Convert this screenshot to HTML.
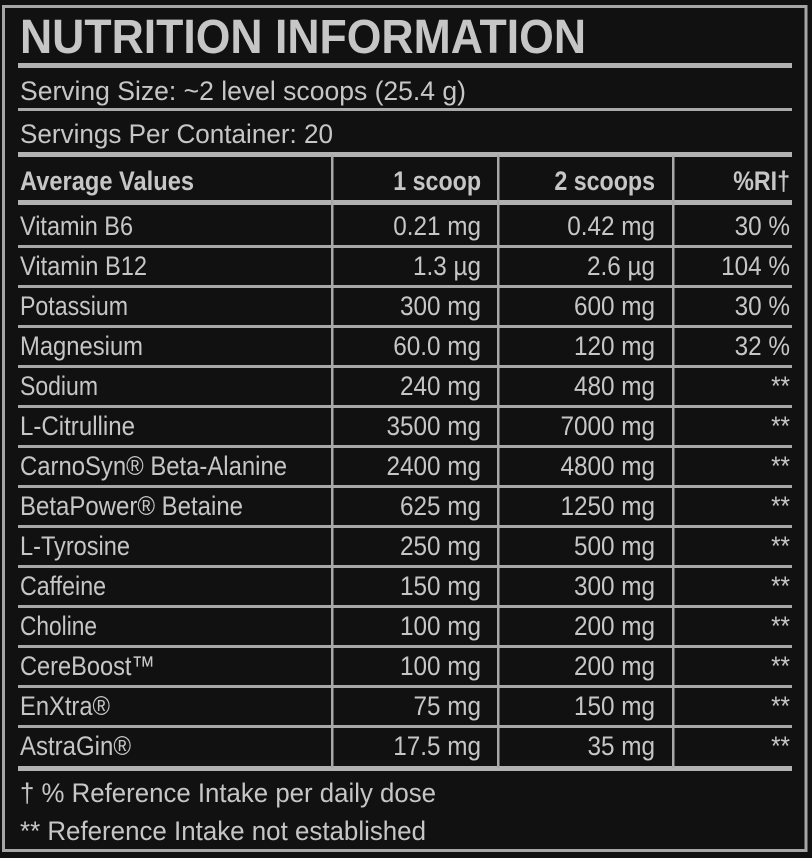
<!DOCTYPE html>
<html><head><meta charset="utf-8"><style>
html,body{margin:0;padding:0;background:#111;}
svg{display:block}
text{font-family:"Liberation Sans",sans-serif;fill:#c6c6c6;font-size:27px}
.b{font-weight:bold}
</style></head><body>
<svg width="812" height="858" viewBox="0 0 812 858" xmlns="http://www.w3.org/2000/svg">
<rect x="0" y="0" width="812" height="858" fill="#111"/>
<rect x="3.5" y="6.5" width="802.5" height="844" fill="none" stroke="#a6a6a6" stroke-width="3"/>
<!-- title -->
<text class="b" x="20" y="53" font-size="48" textLength="566" lengthAdjust="spacingAndGlyphs" style="font-size:48px">NUTRITION INFORMATION</text>
<rect x="18" y="63" width="774" height="5" fill="#b2b2b2"/>
<text x="20" y="100" textLength="446" lengthAdjust="spacingAndGlyphs">Serving Size: ~2 level scoops (25.4 g)</text>
<rect x="18" y="108" width="774" height="3" fill="#aaa"/>
<text x="20" y="143" textLength="313" lengthAdjust="spacingAndGlyphs">Servings Per Container: 20</text>
<rect x="18" y="152" width="774" height="5" fill="#b2b2b2"/>
<!-- header -->
<text class="b" x="20" y="190" textLength="174" lengthAdjust="spacingAndGlyphs">Average Values</text>
<g transform="translate(481,190) scale(0.86,1)"><text class="b" x="0" y="0" text-anchor="end">1 scoop</text></g>
<g transform="translate(655,190) scale(0.86,1)"><text class="b" x="0" y="0" text-anchor="end">2 scoops</text></g>
<g transform="translate(790,190) scale(0.86,1)"><text class="b" x="0" y="0" text-anchor="end">%RI†</text></g>
<rect x="18" y="200" width="774" height="5" fill="#b2b2b2"/>
<!-- row lines -->
<g fill="#a8a8a8">
<rect x="18" y="245" width="774" height="3"/>
<rect x="18" y="285" width="774" height="3"/>
<rect x="18" y="325" width="774" height="3"/>
<rect x="18" y="365" width="774" height="3"/>
<rect x="18" y="405" width="774" height="3"/>
<rect x="18" y="445" width="774" height="3"/>
<rect x="18" y="485" width="774" height="3"/>
<rect x="18" y="525" width="774" height="3"/>
<rect x="18" y="565" width="774" height="3"/>
<rect x="18" y="605" width="774" height="3"/>
<rect x="18" y="645" width="774" height="3"/>
<rect x="18" y="685" width="774" height="3"/>
<rect x="18" y="725" width="774" height="3"/>
</g>
<rect x="18" y="766" width="774" height="5" fill="#b2b2b2"/>
<!-- column lines -->
<g fill="#a8a8a8">
<rect x="331" y="155" width="2.5" height="613"/>
<rect x="497" y="155" width="2.5" height="613"/>
<rect x="672" y="155" width="2.5" height="613"/>
</g>
<!-- names -->
<g>
<text x="20" y="235" textLength="113" lengthAdjust="spacingAndGlyphs">Vitamin B6</text>
<text x="20" y="275" textLength="127" lengthAdjust="spacingAndGlyphs">Vitamin B12</text>
<text x="20" y="315" textLength="108" lengthAdjust="spacingAndGlyphs">Potassium</text>
<text x="20" y="355" textLength="123" lengthAdjust="spacingAndGlyphs">Magnesium</text>
<text x="20" y="395" textLength="78" lengthAdjust="spacingAndGlyphs">Sodium</text>
<text x="20" y="435" textLength="115" lengthAdjust="spacingAndGlyphs">L-Citrulline</text>
<text x="20" y="475" textLength="267" lengthAdjust="spacingAndGlyphs">CarnoSyn® Beta-Alanine</text>
<text x="20" y="515" textLength="223" lengthAdjust="spacingAndGlyphs">BetaPower® Betaine</text>
<text x="20" y="555" textLength="110" lengthAdjust="spacingAndGlyphs">L-Tyrosine</text>
<text x="20" y="595" textLength="86" lengthAdjust="spacingAndGlyphs">Caffeine</text>
<text x="20" y="635" textLength="77" lengthAdjust="spacingAndGlyphs">Choline</text>
<text x="20" y="675" textLength="135" lengthAdjust="spacingAndGlyphs">CereBoost™</text>
<text x="20" y="715" textLength="90" lengthAdjust="spacingAndGlyphs">EnXtra®</text>
<text x="20" y="755" textLength="111" lengthAdjust="spacingAndGlyphs">AstraGin®</text>
</g>
<!-- col 1 -->
<g text-anchor="end">
<g transform="translate(481,235) scale(0.9,1)"><text>0.21 mg</text></g>
<g transform="translate(481,275) scale(0.9,1)"><text>1.3 µg</text></g>
<g transform="translate(481,315) scale(0.9,1)"><text>300 mg</text></g>
<g transform="translate(481,355) scale(0.9,1)"><text>60.0 mg</text></g>
<g transform="translate(481,395) scale(0.9,1)"><text>240 mg</text></g>
<g transform="translate(481,435) scale(0.9,1)"><text>3500 mg</text></g>
<g transform="translate(481,475) scale(0.9,1)"><text>2400 mg</text></g>
<g transform="translate(481,515) scale(0.9,1)"><text>625 mg</text></g>
<g transform="translate(481,555) scale(0.9,1)"><text>250 mg</text></g>
<g transform="translate(481,595) scale(0.9,1)"><text>150 mg</text></g>
<g transform="translate(481,635) scale(0.9,1)"><text>100 mg</text></g>
<g transform="translate(481,675) scale(0.9,1)"><text>100 mg</text></g>
<g transform="translate(481,715) scale(0.9,1)"><text>75 mg</text></g>
<g transform="translate(481,755) scale(0.9,1)"><text>17.5 mg</text></g>
</g>
<!-- col 2 -->
<g text-anchor="end">
<g transform="translate(655,235) scale(0.9,1)"><text>0.42 mg</text></g>
<g transform="translate(655,275) scale(0.9,1)"><text>2.6 µg</text></g>
<g transform="translate(655,315) scale(0.9,1)"><text>600 mg</text></g>
<g transform="translate(655,355) scale(0.9,1)"><text>120 mg</text></g>
<g transform="translate(655,395) scale(0.9,1)"><text>480 mg</text></g>
<g transform="translate(655,435) scale(0.9,1)"><text>7000 mg</text></g>
<g transform="translate(655,475) scale(0.9,1)"><text>4800 mg</text></g>
<g transform="translate(655,515) scale(0.9,1)"><text>1250 mg</text></g>
<g transform="translate(655,555) scale(0.9,1)"><text>500 mg</text></g>
<g transform="translate(655,595) scale(0.9,1)"><text>300 mg</text></g>
<g transform="translate(655,635) scale(0.9,1)"><text>200 mg</text></g>
<g transform="translate(655,675) scale(0.9,1)"><text>200 mg</text></g>
<g transform="translate(655,715) scale(0.9,1)"><text>150 mg</text></g>
<g transform="translate(655,755) scale(0.9,1)"><text>35 mg</text></g>
</g>
<!-- col 3 -->
<g text-anchor="end">
<g transform="translate(790,235) scale(0.9,1)"><text>30 %</text></g>
<g transform="translate(790,275) scale(0.9,1)"><text>104 %</text></g>
<g transform="translate(790,315) scale(0.9,1)"><text>30 %</text></g>
<g transform="translate(790,355) scale(0.9,1)"><text>32 %</text></g>
<g transform="translate(790,395) scale(0.9,1)"><text>**</text></g>
<g transform="translate(790,435) scale(0.9,1)"><text>**</text></g>
<g transform="translate(790,475) scale(0.9,1)"><text>**</text></g>
<g transform="translate(790,515) scale(0.9,1)"><text>**</text></g>
<g transform="translate(790,555) scale(0.9,1)"><text>**</text></g>
<g transform="translate(790,595) scale(0.9,1)"><text>**</text></g>
<g transform="translate(790,635) scale(0.9,1)"><text>**</text></g>
<g transform="translate(790,675) scale(0.9,1)"><text>**</text></g>
<g transform="translate(790,715) scale(0.9,1)"><text>**</text></g>
<g transform="translate(790,755) scale(0.9,1)"><text>**</text></g>
</g>
<!-- footnotes -->
<text x="20" y="802" textLength="416" lengthAdjust="spacingAndGlyphs">† % Reference Intake per daily dose</text>
<text x="20" y="840" textLength="406" lengthAdjust="spacingAndGlyphs">** Reference Intake not established</text>
</svg>
</body></html>
